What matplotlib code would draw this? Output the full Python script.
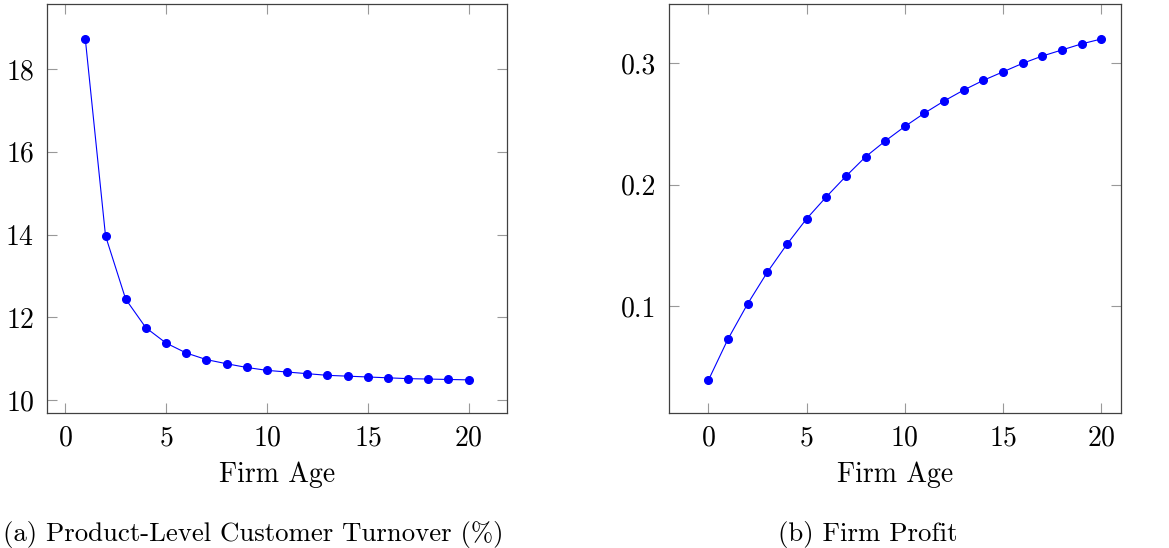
import matplotlib
matplotlib.use("Agg")
import matplotlib.pyplot as plt

plt.rcParams['font.family'] = 'cmr10'
plt.rcParams['mathtext.fontset'] = 'cm'
plt.rcParams['axes.formatter.use_mathtext'] = True

# data
age_turnover = list(range(1, 21))
turnover = [18.72, 13.97, 12.44, 11.75, 11.38, 11.14, 10.98, 10.88, 10.79, 10.72,
            10.68, 10.64, 10.60, 10.58, 10.56, 10.54, 10.52, 10.51, 10.50, 10.49]

age_profit = list(range(0, 21))
profit = [0.039, 0.073, 0.102, 0.128, 0.151, 0.172, 0.190, 0.207, 0.223, 0.236,
          0.248, 0.259, 0.269, 0.278, 0.286, 0.293, 0.300, 0.306, 0.311, 0.316, 0.320]

x_ticks = [0, 5, 10, 15, 20]
turnover_ticks = [10, 12, 14, 16, 18]
profit_ticks = [0.1, 0.2, 0.3]
captions = ["(a) Product-Level Customer Turnover (%)", "(b) Firm Profit"]

fs = 20
fig = plt.figure(figsize=(11.69, 5.48), dpi=100)
ax1 = fig.add_axes([47 / 1169, 135 / 548, 460 / 1169, 409 / 548])
ax2 = fig.add_axes([669 / 1169, 135 / 548, 452 / 1169, 409 / 548])


def style(ax):
    for s in ax.spines.values():
        s.set_color('#404040')
        s.set_linewidth(0.9)
    ax.tick_params(direction='in', length=7, width=0.8, color='#999999',
                   top=True, right=True, labelsize=fs, pad=9)
    ax.set_xticks(x_ticks)
    ax.set_xlabel("Firm Age", fontsize=fs, labelpad=7)


ax1.plot(age_turnover, turnover, color='#0000ff', lw=0.8, marker='o', ms=5.5)
ax1.set_xlim(-0.9, 21.9)
ax1.set_ylim(9.69, 19.57)
ax1.set_yticks(turnover_ticks)
style(ax1)

ax2.plot(age_profit, profit, color='#0000ff', lw=0.8, marker='o', ms=5.5)
ax2.set_xlim(-2.0, 21.0)
ax2.set_ylim(0.0122, 0.3488)
ax2.set_yticks(profit_ticks)
ax2.set_yticklabels([str(t) for t in profit_ticks])
style(ax2)

fig.text(253 / 1169, 1 - 534 / 548, captions[0], ha='center', va='center', fontsize=19.3)
fig.text(868 / 1169, 1 - 534 / 548, captions[1], ha='center', va='center', fontsize=19.3)

fig.savefig("out.png", dpi=100)
